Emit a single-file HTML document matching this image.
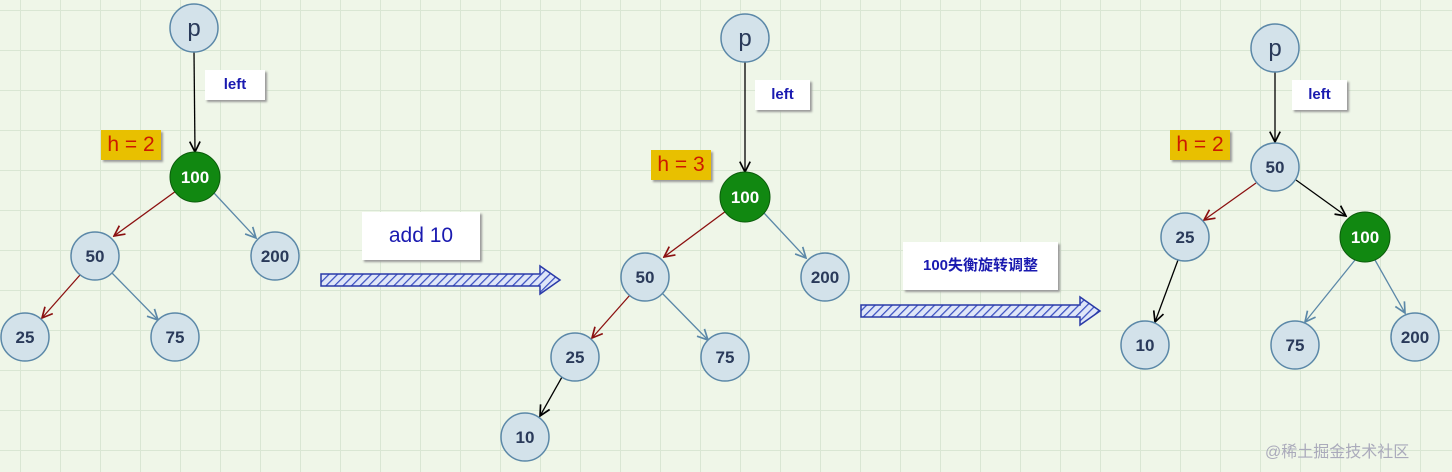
<!DOCTYPE html>
<html><head><meta charset="utf-8"><style>
body{margin:0;width:1452px;height:472px;overflow:hidden;background:#eff6e8;
background-image:linear-gradient(#d9e6d3 1px,transparent 1px),linear-gradient(90deg,#d9e6d3 1px,transparent 1px);
background-size:40px 40px;background-position:20px 10px;font-family:"Liberation Sans","Noto Sans CJK SC",sans-serif;position:relative}
.b{position:absolute;background:#fff;box-shadow:2px 2px 2px #999;color:#1a1ab0;font-weight:bold;text-align:center;font-size:15px}
.h{position:absolute;background:#e8c000;color:#cc1a00;font-size:21px;text-align:center;box-shadow:2px 2px 2px #999;line-height:30px}
svg{position:absolute;left:0;top:0}
</style></head><body>
<svg width="1452" height="472">
<defs>
<marker id="a" markerWidth="10" markerHeight="10" refX="9" refY="5" orient="auto"><path d="M1,1 L9,5 L1,9" fill="none" stroke="context-stroke" stroke-width="1.3"/></marker>
<pattern id="hp" width="6" height="6" patternUnits="userSpaceOnUse" patternTransform="rotate(45)"><rect width="6" height="6" fill="#dfe6f8"/><line x1="0" y1="0" x2="0" y2="6" stroke="#3a4fc0" stroke-width="2.5"/></pattern>
</defs>
<g stroke-width="1.3" fill="none" marker-end="url(#a)">
<line x1="194" y1="52" x2="195" y2="152" stroke="#000"/>
<line x1="176" y1="191" x2="114" y2="236" stroke="#8b1010"/>
<line x1="214" y1="193" x2="256" y2="238" stroke="#5b88a8"/>
<line x1="80" y1="275" x2="42" y2="318" stroke="#8b1010"/>
<line x1="112" y1="273" x2="158" y2="320" stroke="#5b88a8"/>
<line x1="745" y1="62" x2="745" y2="172" stroke="#000"/>
<line x1="726" y1="211" x2="664" y2="257" stroke="#8b1010"/>
<line x1="764" y1="213" x2="806" y2="258" stroke="#5b88a8"/>
<line x1="630" y1="295" x2="592" y2="338" stroke="#8b1010"/>
<line x1="662" y1="293" x2="708" y2="340" stroke="#5b88a8"/>
<line x1="562" y1="377" x2="540" y2="416" stroke="#000"/>
<line x1="1275" y1="72" x2="1275" y2="142" stroke="#000"/>
<line x1="1256" y1="183" x2="1204" y2="220" stroke="#8b1010"/>
<line x1="1296" y1="180" x2="1346" y2="216" stroke="#000"/>
<line x1="1178" y1="260" x2="1155" y2="322" stroke="#000"/>
<line x1="1355" y1="260" x2="1305" y2="322" stroke="#5b88a8"/>
<line x1="1375" y1="260" x2="1405" y2="313" stroke="#5b88a8"/>
</g>
<g stroke="#5b88a8" stroke-width="1.5" fill="#d3e2ea">
<circle cx="194" cy="28" r="24"/><circle cx="95" cy="256" r="24"/><circle cx="275" cy="256" r="24"/><circle cx="25" cy="337" r="24"/><circle cx="175" cy="337" r="24"/>
<circle cx="745" cy="38" r="24"/><circle cx="645" cy="277" r="24"/><circle cx="825" cy="277" r="24"/><circle cx="575" cy="357" r="24"/><circle cx="725" cy="357" r="24"/><circle cx="525" cy="437" r="24"/>
<circle cx="1275" cy="48" r="24"/><circle cx="1275" cy="167" r="24"/><circle cx="1185" cy="237" r="24"/><circle cx="1145" cy="345" r="24"/><circle cx="1295" cy="345" r="24"/><circle cx="1415" cy="337" r="24"/>
</g>
<g fill="#118811" stroke="#0a5a0a"><circle cx="195" cy="177" r="25"/><circle cx="745" cy="197" r="25"/><circle cx="1365" cy="237" r="25"/></g>
<g font-family="Liberation Sans" font-size="17" fill="#2a3a5a" text-anchor="middle" font-weight="bold">
<text x="194" y="36" font-size="24" font-weight="normal">p</text><text x="745" y="46" font-size="24" font-weight="normal">p</text><text x="1275" y="56" font-size="24" font-weight="normal">p</text>
<text x="95" y="262">50</text><text x="275" y="262">200</text><text x="25" y="343">25</text><text x="175" y="343">75</text>
<text x="645" y="283">50</text><text x="825" y="283">200</text><text x="575" y="363">25</text><text x="725" y="363">75</text><text x="525" y="443">10</text>
<text x="1275" y="173">50</text><text x="1185" y="243">25</text><text x="1145" y="351">10</text><text x="1295" y="351">75</text><text x="1415" y="343">200</text>
<g fill="#fff"><text x="195" y="183">100</text><text x="745" y="203">100</text><text x="1365" y="243">100</text></g>
</g>
<g stroke="#2a3aa8" stroke-width="1.5" fill="url(#hp)">
<path d="M321,274 L540,274 L540,266 L560,280 L540,294 L540,286 L321,286 Z"/>
<path d="M861,305 L1080,305 L1080,297 L1100,311 L1080,325 L1080,317 L861,317 Z"/>
</g>
</svg>
<div class="b" style="left:205px;top:70px;width:60px;height:30px;line-height:30px">left</div>
<div class="b" style="left:755px;top:80px;width:55px;height:30px;line-height:30px">left</div>
<div class="b" style="left:1292px;top:80px;width:55px;height:30px;line-height:30px">left</div>
<div class="h" style="left:101px;top:130px;width:60px;height:30px">h = 2</div>
<div class="h" style="left:651px;top:150px;width:60px;height:30px">h = 3</div>
<div class="h" style="left:1170px;top:130px;width:60px;height:30px">h = 2</div>
<div class="b" style="left:362px;top:212px;width:118px;height:48px;line-height:48px;font-weight:normal;font-size:21px">add 10</div>
<div class="b" style="left:903px;top:242px;width:155px;height:48px;line-height:48px">100失衡旋转调整</div>
<div style="position:absolute;left:1265px;top:438px;color:#aab;font-size:16px">@稀土掘金技术社区</div>
</body></html>
